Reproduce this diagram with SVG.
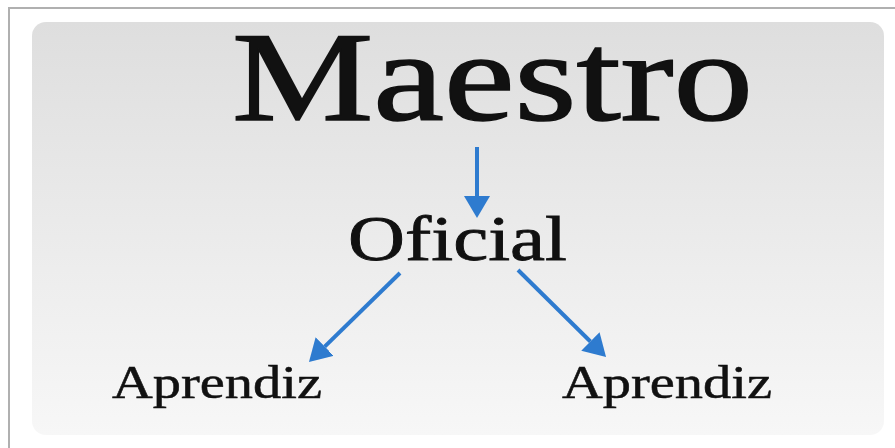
<svg xmlns="http://www.w3.org/2000/svg" width="895" height="448" viewBox="0 0 895 448">
  <defs>
    <linearGradient id="bg" x1="0" y1="0" x2="0" y2="1">
      <stop offset="0" stop-color="#dedede"/>
      <stop offset="1" stop-color="#f7f7f7"/>
    </linearGradient>
    <marker id="head" markerUnits="userSpaceOnUse" markerWidth="22" markerHeight="26" viewBox="0 0 22 26" refX="0" refY="13" orient="auto">
      <path d="M0,0 L22,13 L0,26 z" fill="#2e7bcf"/>
    </marker>
  </defs>
  <style>
    .lbl { font-family: "Liberation Serif", "Times New Roman", serif; fill: #111111; stroke: #111111; }
    .arrow { stroke: #2e7bcf; stroke-width: 4; fill: none; marker-end: url(#head); }
  </style>
  <rect x="0" y="0" width="895" height="448" fill="#ffffff"/>
  <rect x="9" y="8" width="900" height="460" fill="none" stroke="#b0b0b0" stroke-width="2"/>
  <rect x="32" y="22" width="852" height="413" rx="14" ry="14" fill="url(#bg)"/>

  <g id="connectors">
    <line class="arrow" x1="477" y1="147" x2="477" y2="196"/>
    <line class="arrow" x1="400" y1="273" x2="324.7" y2="346.6"/>
    <line class="arrow" x1="518" y1="270" x2="590.4" y2="341.5"/>
  </g>

  <g id="maestro">
    <text class="lbl" x="232" y="120" font-size="126" stroke-width="1.6" textLength="521" lengthAdjust="spacingAndGlyphs">Maestro</text>
  </g>
  <g id="oficial">
    <text class="lbl" x="348" y="260" font-size="64" stroke-width="0.8" textLength="219" lengthAdjust="spacingAndGlyphs">Oficial</text>
  </g>
  <g id="aprendiz-left">
    <text class="lbl" x="112" y="398" font-size="46" stroke-width="0.5" textLength="210" lengthAdjust="spacingAndGlyphs">Aprendiz</text>
  </g>
  <g id="aprendiz-right">
    <text class="lbl" x="562" y="398" font-size="46" stroke-width="0.5" textLength="210" lengthAdjust="spacingAndGlyphs">Aprendiz</text>
  </g>
</svg>
